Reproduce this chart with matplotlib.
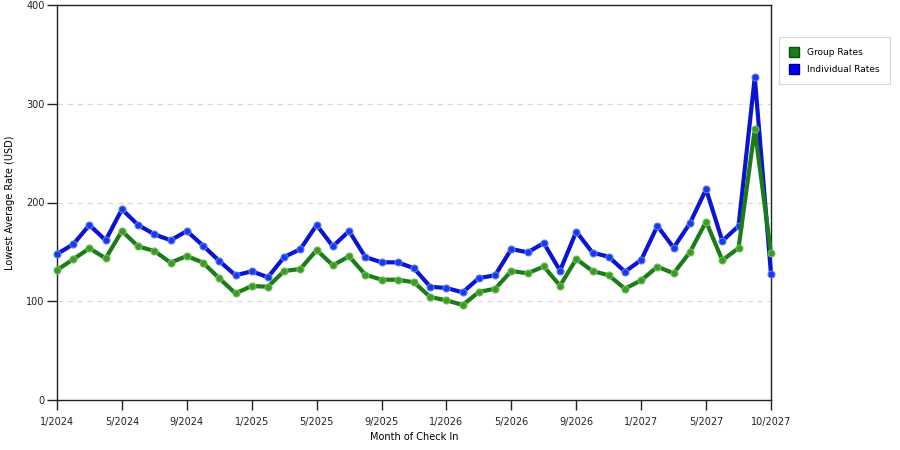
import numpy as np
import matplotlib
matplotlib.use("Agg")
import matplotlib.pyplot as plt
from matplotlib.patches import Patch

# months 1/2024 .. 9/2027 (last tick is labelled 10/2027 on the source chart)
months = ["1/2024", "2/2024", "3/2024", "4/2024", "5/2024", "6/2024", "7/2024", "8/2024",
          "9/2024", "10/2024", "11/2024", "12/2024", "1/2025", "2/2025", "3/2025", "4/2025",
          "5/2025", "6/2025", "7/2025", "8/2025", "9/2025", "10/2025", "11/2025", "12/2025",
          "1/2026", "2/2026", "3/2026", "4/2026", "5/2026", "6/2026", "7/2026", "8/2026",
          "9/2026", "10/2026", "11/2026", "12/2026", "1/2027", "2/2027", "3/2027", "4/2027",
          "5/2027", "6/2027", "7/2027", "8/2027", "10/2027"]

group_rates = [131.6, 142.5, 153.6, 143.5, 171.1, 155.6, 150.9, 139.1, 145.8, 139.1,
               123.2, 108.0, 115.4, 114.7, 130.6, 132.7, 151.9, 136.4, 145.5, 126.9,
               121.8, 121.8, 119.2, 104.3, 100.9, 96.2, 109.4, 112.7, 130.6, 128.3,
               135.2, 115.7, 142.8, 130.6, 126.3, 112.7, 121.2, 135.0, 128.3, 149.6,
               180.6, 141.5, 153.9, 274.1, 148.5]

individual_rates = [147.8, 157.7, 177.2, 161.7, 193.1, 177.2, 167.8, 161.7, 171.1, 156.3,
                    140.8, 126.3, 130.3, 124.3, 144.8, 152.8, 177.2, 155.6, 171.1, 144.8,
                    139.4, 139.4, 133.4, 114.7, 113.4, 109.0, 123.5, 126.3, 152.9, 149.5,
                    158.9, 131.0, 170.5, 149.2, 145.1, 129.9, 141.8, 176.2, 154.2, 178.9,
                    213.4, 161.0, 176.2, 326.8, 127.9]

tick_pos = [0, 4, 8, 12, 16, 20, 24, 28, 32, 36, 40, 44]

green = "#1a7d1a"
blue = "#0a14d2"

plt.rcParams["font.family"] = ["DejaVu Sans"]

fig = plt.figure(figsize=(9, 4.5), dpi=100)
ax = fig.add_axes([57 / 900, 50 / 450, 714 / 900, 395 / 450])

x = np.arange(len(months))
ax.plot(x, individual_rates, color=blue, lw=3, marker="o", ms=5,
        mfc="#1a3ae8", mec="#5a7cf0", mew=0.8, zorder=3, clip_on=False)
ax.plot(x, group_rates, color=green, lw=3, marker="o", ms=5,
        mfc="#3c9a2c", mec="#6cbf4a", mew=0.8, zorder=4, clip_on=False)

ax.set_xlim(0, len(months) - 1)
ax.set_ylim(0, 400)
ax.set_yticks([0, 100, 200, 300, 400])
ax.set_xticks(tick_pos)
ax.set_xticklabels([months[i] for i in tick_pos])
for yv in [100, 200, 300]:
    ax.axhline(yv, color="#d8d8d8", lw=0.8, ls=(0, (5, 4)), zorder=1)

ax.tick_params(axis="both", direction="out", length=7, width=1, labelsize=7, colors="#222222")
ax.tick_params(axis="x", pad=5)
ax.tick_params(axis="y", pad=2)
for s in ax.spines.values():
    s.set_color("#222222")
    s.set_linewidth(1)

ax.set_xlabel("Month of Check In", fontsize=7, labelpad=4)
ax.set_ylabel("Lowest Average Rate (USD)", fontsize=7, labelpad=8)

handles = [Patch(facecolor=green, edgecolor="#0d4d0d", label="Group Rates"),
           Patch(facecolor="#0000ff", edgecolor="#00007a", label="Individual Rates")]
leg = fig.legend(handles=handles, loc="upper left", bbox_to_anchor=(779 / 900, 1 - 37 / 450),
                 fontsize=6.5, frameon=True, fancybox=False, handlelength=1.1, handleheight=1.3,
                 borderpad=1.1, labelspacing=0.8, handletextpad=0.9, borderaxespad=0)
leg.get_frame().set_edgecolor("#cccccc")
leg.get_frame().set_linewidth(0.8)

fig.savefig("out.png", dpi=100)
